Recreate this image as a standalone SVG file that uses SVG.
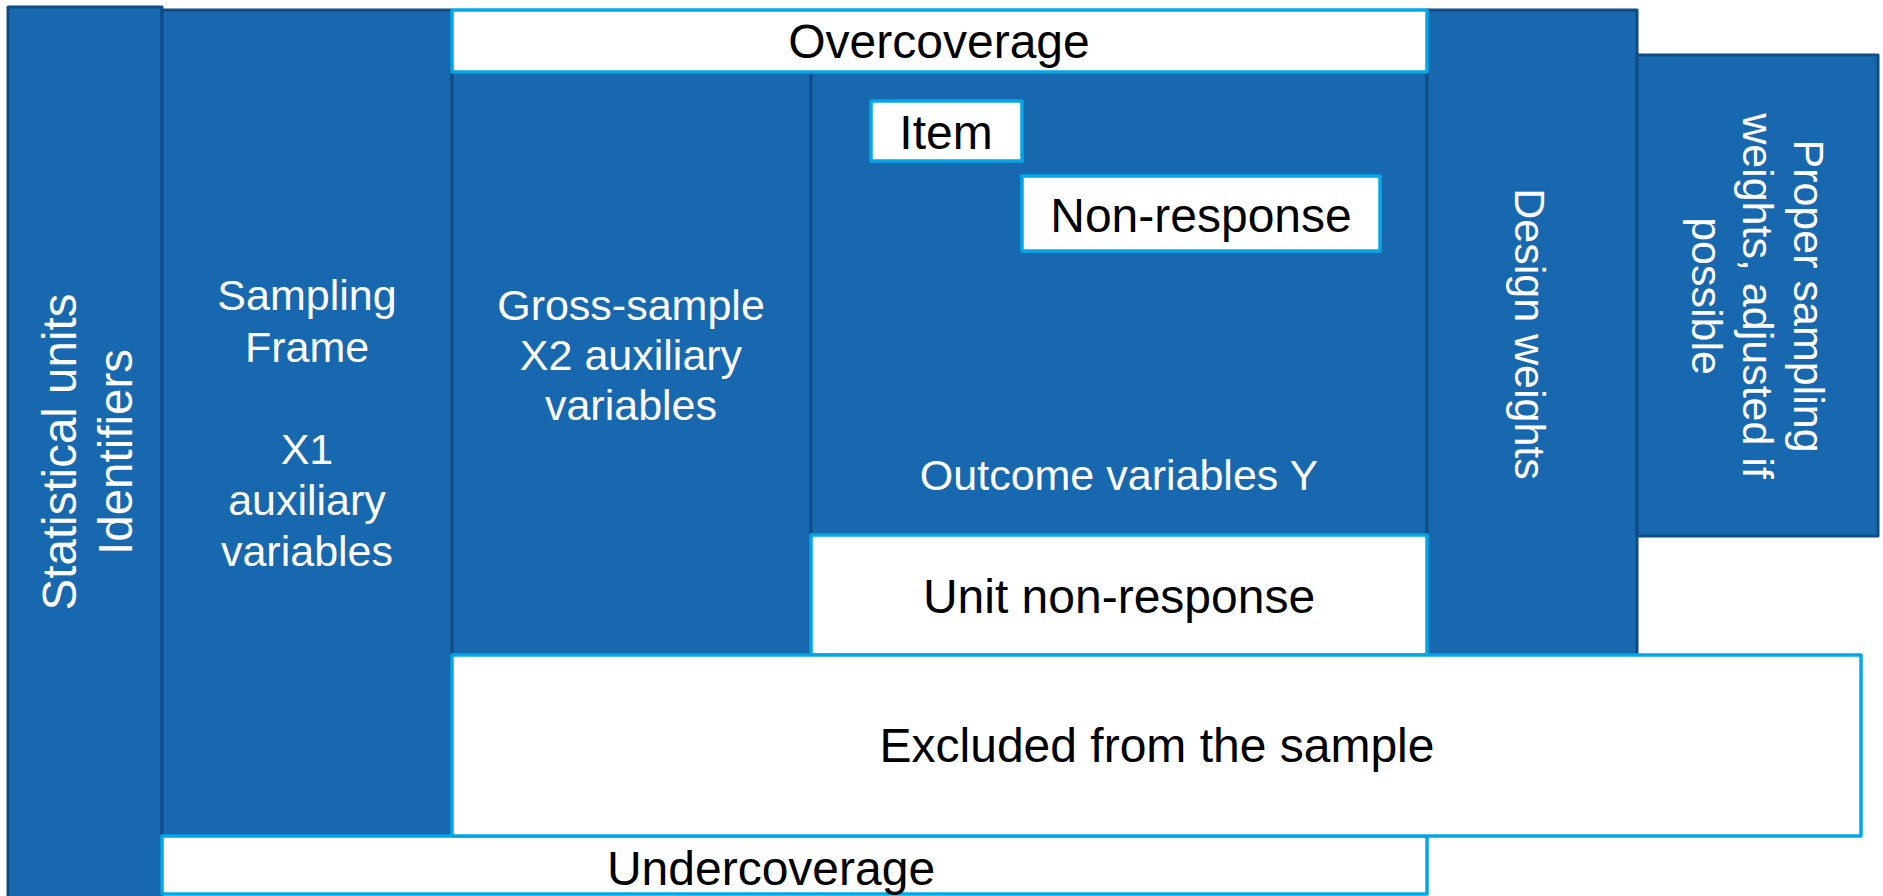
<svg xmlns="http://www.w3.org/2000/svg" width="1883" height="896" viewBox="0 0 1883 896">
  <style>
    .blue { fill: #1868B0; stroke: #0F4C86; stroke-width: 3; stroke-linejoin: round; }
    .white { fill: #FFFFFF; stroke: #05A6E6; stroke-width: 3.5; stroke-linejoin: round; }
    .lw { font-family: "Liberation Sans", Arial, sans-serif; font-size: 43px; fill: #FFFFFF; text-anchor: middle; }
    .lb { font-family: "Liberation Sans", Arial, sans-serif; font-size: 48px; fill: #000000; text-anchor: middle; }
    .lv { font-family: "Liberation Sans", Arial, sans-serif; font-size: 47.5px; fill: #FFFFFF; text-anchor: middle; }
  </style>
  <rect width="1883" height="896" fill="#FFFFFF"/>

  <!-- blue data blocks -->
  <g id="identifiers">
    <rect class="blue" x="8" y="7" width="154" height="900"/>
    <text class="lv" transform="translate(76,452) rotate(-90)">Statistical units</text>
    <text class="lv" transform="translate(132,452) rotate(-90)">Identifiers</text>
  </g>

  <g id="sampling-frame">
    <rect class="blue" x="162" y="10" width="290" height="826"/>
    <text class="lw" x="307" y="310">Sampling</text>
    <text class="lw" x="307" y="362">Frame</text>
    <text class="lw" x="307" y="464">X1</text>
    <text class="lw" x="307" y="515">auxiliary</text>
    <text class="lw" x="307" y="566">variables</text>
  </g>

  <g id="gross-sample">
    <rect class="blue" x="452" y="72" width="359" height="583"/>
    <text class="lw" x="631" y="320">Gross-sample</text>
    <text class="lw" x="631" y="370">X2 auxiliary</text>
    <text class="lw" x="631" y="420">variables</text>
  </g>

  <g id="outcome">
    <rect class="blue" x="811" y="72" width="616" height="463"/>
    <text class="lw" x="1119" y="490">Outcome variables Y</text>
  </g>

  <g id="design-weights">
    <rect class="blue" x="1427" y="10" width="210" height="645"/>
    <text class="lw" transform="translate(1515,334) rotate(90)">Design weights</text>
  </g>

  <g id="proper-weights">
    <rect class="blue" x="1637" y="55" width="241" height="481"/>
    <text class="lw" transform="translate(1794,296) rotate(90)">Proper sampling</text>
    <text class="lw" transform="translate(1743,296) rotate(90)">weights, adjusted if</text>
    <text class="lw" transform="translate(1692,296) rotate(90)">possible</text>
  </g>

  <!-- white gap blocks -->
  <g id="overcoverage">
    <rect class="white" x="452" y="10" width="975" height="62"/>
    <text class="lb" x="939" y="58">Overcoverage</text>
  </g>

  <g id="item">
    <rect class="white" x="871" y="101" width="151" height="60"/>
    <text class="lb" x="946" y="149">Item</text>
  </g>

  <g id="non-response">
    <rect class="white" x="1022" y="176" width="358" height="75"/>
    <text class="lb" x="1201" y="232">Non-response</text>
  </g>

  <g id="unit-non-response">
    <rect class="white" x="811" y="535" width="616" height="120"/>
    <text class="lb" x="1119" y="613">Unit non-response</text>
  </g>

  <g id="undercoverage">
    <rect class="white" x="162" y="836" width="1265" height="58"/>
    <text class="lb" x="771" y="885">Undercoverage</text>
  </g>

  <g id="excluded">
    <rect class="white" x="452" y="655" width="1409" height="181"/>
    <text class="lb" x="1157" y="762">Excluded from the sample</text>
  </g>

  <g id="connectors"/>
</svg>
